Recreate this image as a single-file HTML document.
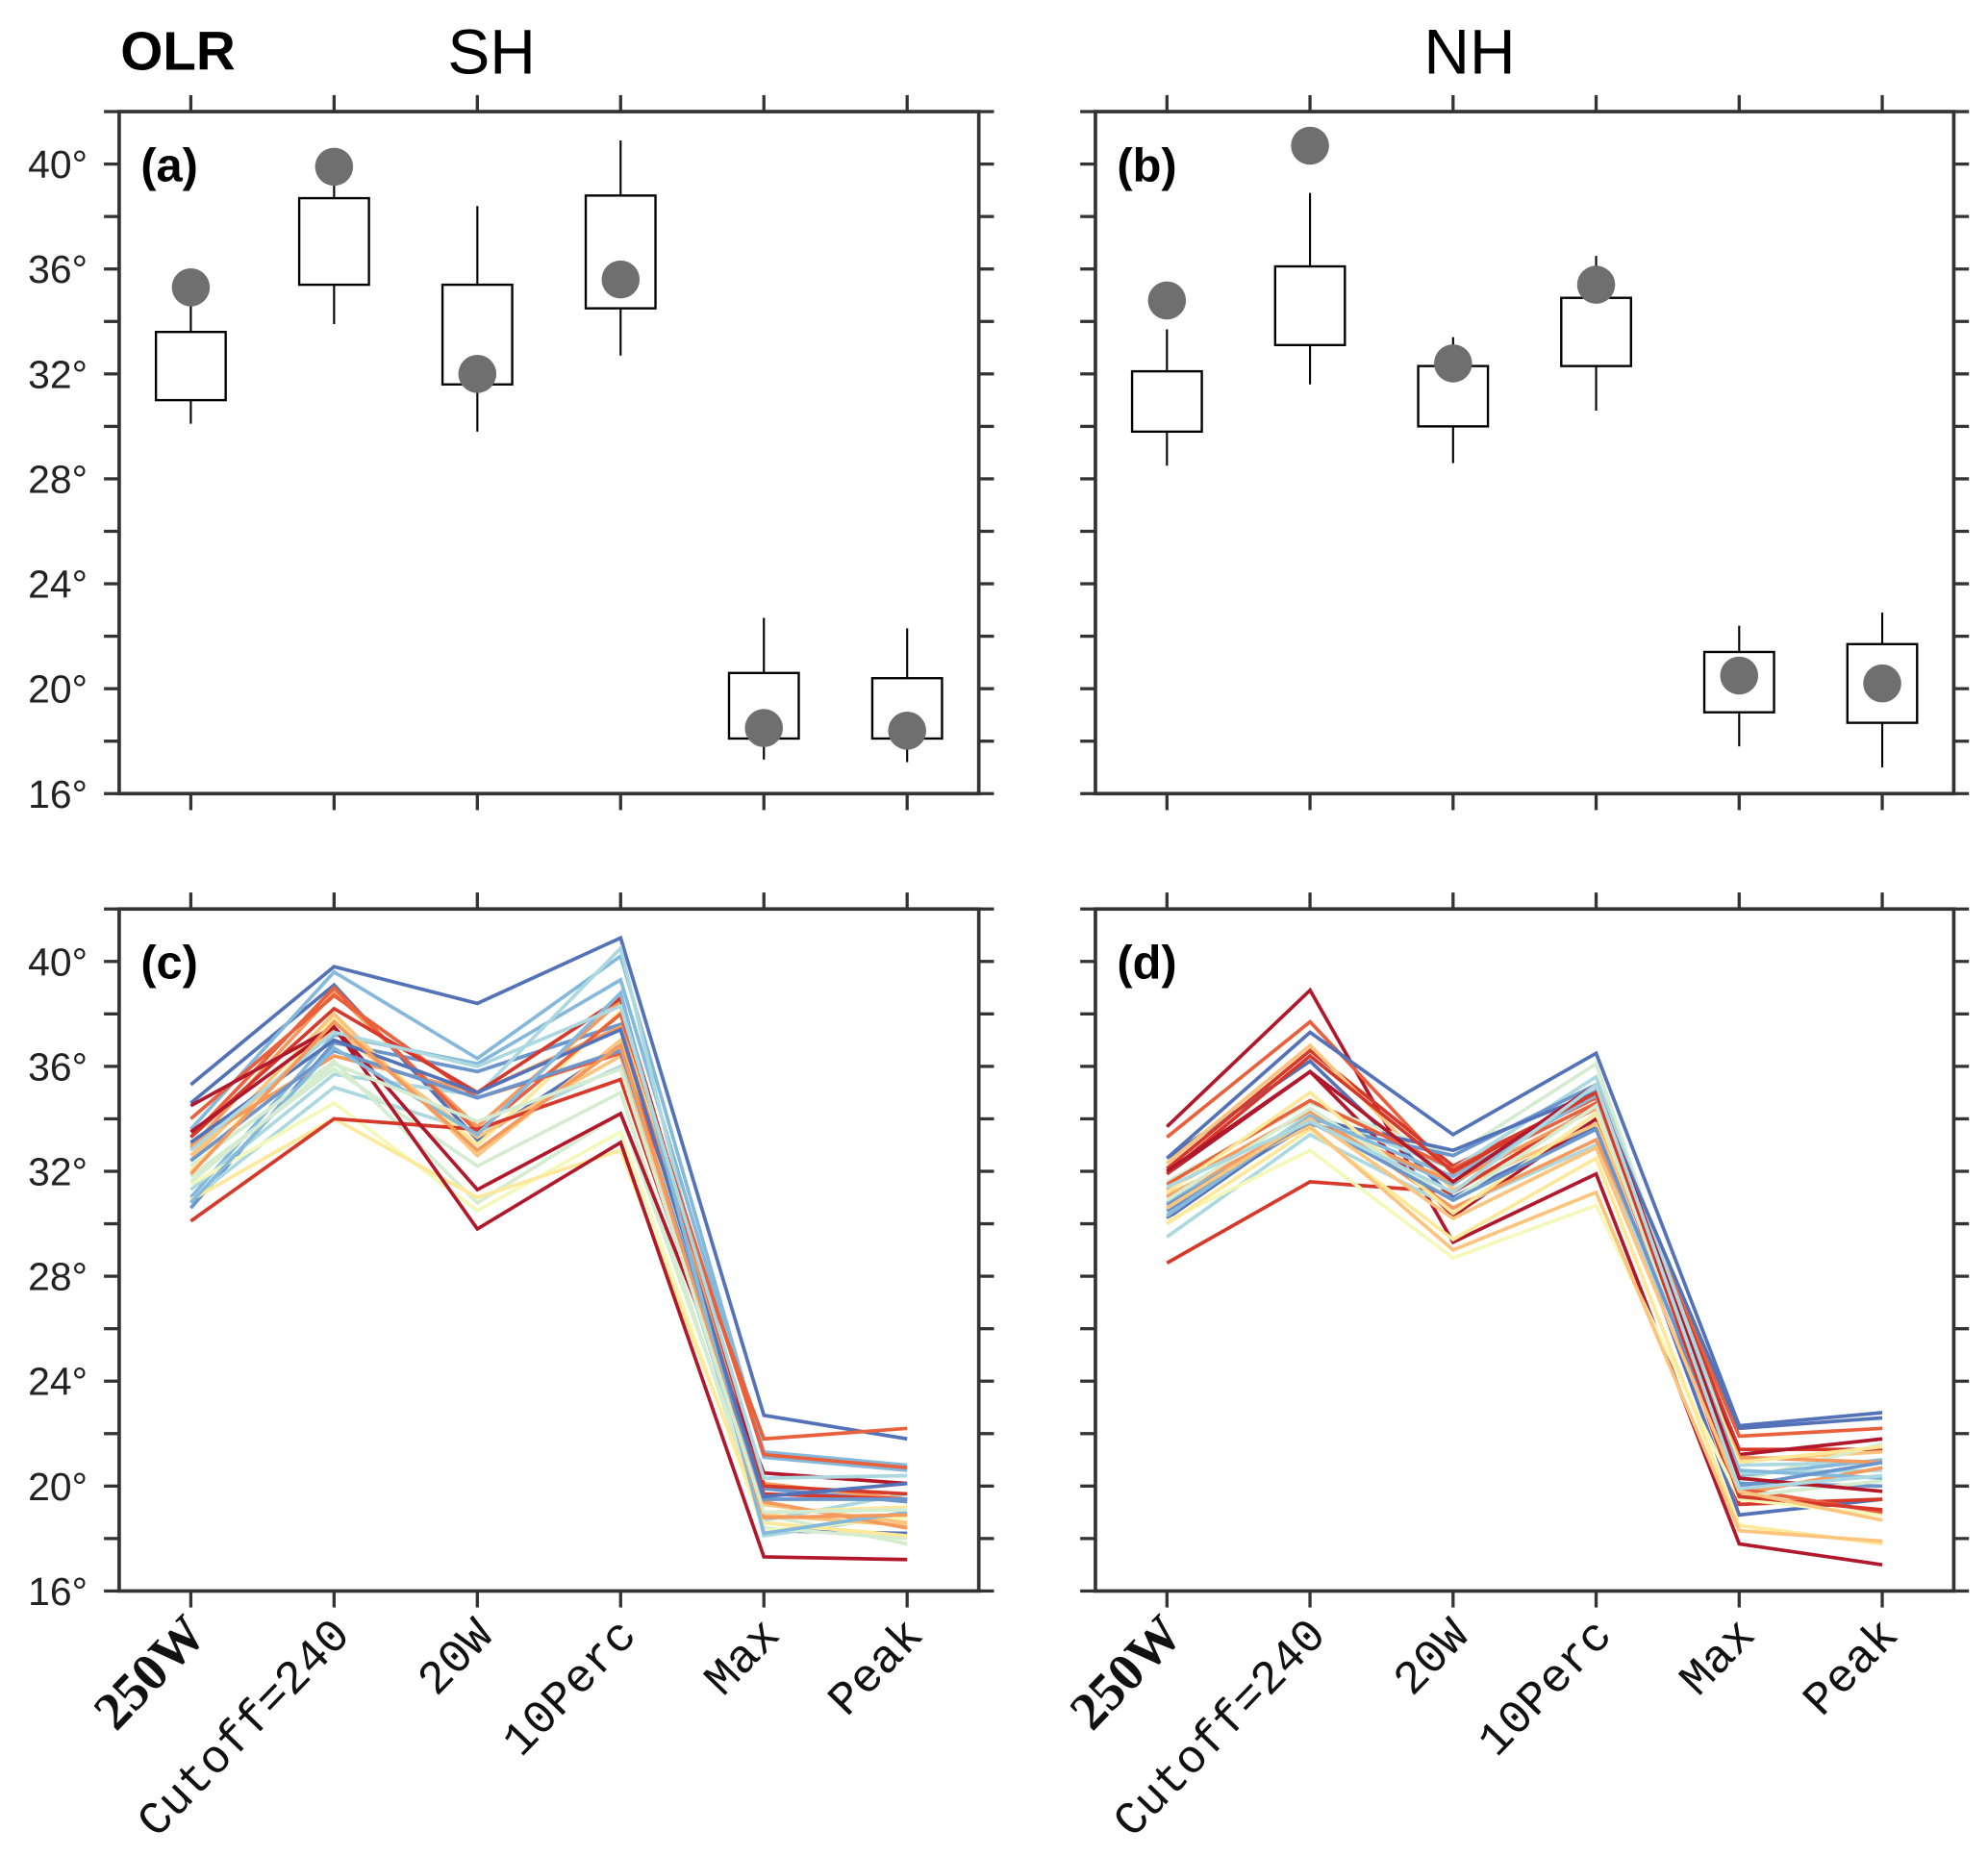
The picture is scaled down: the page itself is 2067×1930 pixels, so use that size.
<!DOCTYPE html>
<html><head><meta charset="utf-8"><style>
html,body{margin:0;padding:0;background:#fff;}
svg{display:block;}
</style></head><body>
<svg id="fig" width="2067" height="1930" viewBox="0 0 1568 1464" xmlns="http://www.w3.org/2000/svg" font-family="Liberation Sans, sans-serif">
<text x="95" y="55" font-size="43" font-weight="bold">OLR</text>
<text x="353" y="58" font-size="50">SH</text>
<text x="1123" y="58" font-size="50">NH</text>
</svg>
<script>
const categories = ["250W","Cutoff=240","20W","10Perc","Max","Peak"];
const yTicks = [16,20,24,28,32,36,40];
// box stats: [whiskerLow, q1, q3, whiskerHigh]
const shBoxLow = [30.1,33.9,29.8,32.7,17.3,17.2];
const shBoxQ1  = [31.0,35.4,31.6,34.5,18.1,18.1];
const shBoxQ3  = [33.6,38.7,35.4,38.8,20.6,20.4];
const shBoxHigh= [35.3,39.9,38.4,40.9,22.7,22.3];
const shDots   = [35.3,39.9,32.0,35.6,18.5,18.4];
const nhBoxLow = [28.5,31.6,28.6,30.6,17.8,17.0];
const nhBoxQ1  = [29.8,33.1,30.0,32.3,19.1,18.7];
const nhBoxQ3  = [32.1,36.1,32.3,34.9,21.4,21.7];
const nhBoxHigh= [33.7,38.9,33.4,36.5,22.4,22.9];
const nhDots   = [34.8,40.7,32.4,35.4,20.5,20.2];
const shSeries = [
[35.3,39.8,38.4,40.9,22.7,21.8],[34.6,39.1,33.2,36.8,18.3,18.2],[30.6,36.9,35.8,37.6,19.9,19.4],
[33.6,39.6,36.3,40.2,21.3,20.8],[31.0,37.2,36.1,39.3,21.1,20.6],[31.3,35.7,34.9,40.5,18.1,18.9],
[30.9,35.2,33.5,36.0,18.7,19.7],[31.8,35.9,32.2,35.0,18.4,18.0],[32.2,36.2,30.8,34.2,18.9,17.8],
[31.5,34.6,30.5,33.5,18.3,18.8],[30.9,34.0,31.0,32.8,18.6,18.1],[32.0,37.8,33.0,38.1,19.0,19.2],
[32.4,38.0,32.6,37.0,18.9,18.5],[32.6,37.4,33.3,36.4,19.3,18.6],[32.9,38.8,33.7,38.5,19.4,18.4],
[33.0,36.4,35.0,37.5,20.1,19.5],[34.0,38.7,34.8,36.5,21.8,22.2],[33.3,39.0,33.5,38.0,21.2,20.7],
[33.3,38.2,35.0,38.6,20.0,19.7],[30.1,34.0,33.6,35.5,19.7,19.5],[34.5,37.5,31.3,34.2,20.5,20.1],
[33.5,37.5,29.8,33.1,17.3,17.2],[32.4,36.6,34.8,36.6,19.5,19.5],[33.1,37.0,35.0,37.4,19.6,20.1],
[30.8,36.7,33.4,38.8,18.2,19.0],[32.8,37.3,36.0,38.3,20.3,20.4],[31.9,37.7,32.8,36.8,18.8,18.9],
[31.6,36.1,33.9,35.9,19.0,19.1]];
const shColors = ["#5472b8","#5472b8","#6b96cd","#85b9dc","#85b9dc","#acd8df","#acd8df","#d5ecd0","#d5ecd0","#f4f8b9","#fee99a","#fee99a","#fdc47d","#fdc47d","#f59a5c","#f59a5c","#e8603c","#e8603c","#d6382a","#d6382a","#b2182b","#b2182b","#6b96cd","#5472b8","#85b9dc","#acd8df","#f59a5c","#d5ecd0"];
const nhSeries = [
[33.7,38.9,29.3,31.9,17.8,17.0],[33.3,37.7,31.9,34.6,21.9,22.2],[32.5,37.3,33.4,36.5,22.3,22.8],
[32.5,36.2,31.0,33.7,18.9,19.5],[32.1,36.6,32.2,34.9,21.4,21.4],[31.9,35.8,30.3,34.0,21.2,21.8],
[32.3,36.8,31.3,33.8,21.0,21.3],[28.5,31.6,31.2,34.5,19.3,19.5],[31.6,34.6,32.6,36.1,20.2,21.6],
[30.4,34.2,32.1,35.6,20.8,20.9],[30.8,33.9,31.5,35.1,20.4,21.0],[30.5,33.8,32.6,35.3,20.1,20.0],
[30.2,34.0,32.8,35.0,22.2,22.6],[29.5,33.4,30.6,33.0,20.5,20.6],[30.1,32.8,28.7,30.7,19.5,18.9],
[30.0,33.6,29.4,32.5,18.5,17.8],[31.1,33.7,29.0,31.2,18.3,17.9],[31.0,33.9,31.6,34.4,19.7,20.7],
[31.3,34.3,30.6,33.2,21.1,20.9],[31.5,34.7,32.1,34.8,19.9,19.0],[31.2,35.0,30.4,34.2,20.9,21.5],
[30.9,34.4,30.9,34.5,19.6,20.2],[30.3,34.1,31.8,34.9,20.6,20.3],[30.7,33.9,30.9,33.6,20.0,20.9],
[31.9,36.4,32.0,35.0,19.6,19.1],[32.0,35.8,31.6,35.3,20.3,19.8],[30.6,34.0,30.2,32.9,19.8,18.7],
[31.4,33.9,31.2,35.3,19.9,20.4]];
const nhColors = ["#b2182b","#e8603c","#5472b8","#5472b8","#d6382a","#b2182b","#fdc47d","#d6382a","#d5ecd0","#acd8df","#85b9dc","#6b96cd","#5472b8","#acd8df","#f4f8b9","#fee99a","#fdc47d","#f59a5c","#f59a5c","#e8603c","#fee99a","#d5ecd0","#85b9dc","#6b96cd","#d6382a","#b2182b","#fdc47d","#acd8df"];

const NS="http://www.w3.org/2000/svg";
const svg=document.getElementById('fig');
function mk(tag,attrs,parent){const e=document.createElementNS(NS,tag);for(const k in attrs)e.setAttribute(k,attrs[k]);(parent||svg).appendChild(e);return e;}
const yMin=16,yMax=42;
function makePanel(x0,x1,y0,y1){
  return {x0,x1,y0,y1,
    sx:i=>x0+(i+0.5)*(x1-x0)/6,
    sy:v=>y1-(v-yMin)/(yMax-yMin)*(y1-y0)};
}
function axes(p,name,label,showY,showX){
  const g=mk('g',{});
  
  
  for(let v=16;v<=42;v+=2){
    const y=p.sy(v);
    mk('line',{x1:p.x0-12,x2:p.x0,y1:y,y2:y,stroke:'#333','stroke-width':2.5},g);
    mk('line',{x1:p.x1,x2:p.x1+12,y1:y,y2:y,stroke:'#333','stroke-width':2.5},g);
  }
  categories.forEach((c,i)=>{
    const x=p.sx(i);
    mk('line',{x1:x,x2:x,y1:p.y0-13,y2:p.y0,stroke:'#333','stroke-width':2.5},g);
    mk('line',{x1:x,x2:x,y1:p.y1,y2:p.y1+13,stroke:'#333','stroke-width':2.5},g);
  });
  mk('rect',{x:p.x0,y:p.y0,width:p.x1-p.x0,height:p.y1-p.y0,fill:'none',stroke:'#333','stroke-width':2.8},g);
  if(showY){
    yTicks.forEach(v=>{
      const t=mk('text',{x:p.x0-25,y:p.sy(v)+11,'text-anchor':'end','font-size':31,fill:'#222'},g);
      
      
      t.textContent=v+'°';
    });
  }
  if(showX){
    categories.forEach((c,i)=>{
      const x=p.sx(i)+14, y=p.y1+36;
      const bold=i===0;
      const t=mk('text',{x:x,y:y,'text-anchor':'end','font-size':bold?42:37,'font-weight':bold?'bold':'normal','font-family':bold?'Liberation Serif, serif':'Liberation Mono, monospace',transform:`rotate(-46 ${x} ${y})`,fill:'#111'},g);
      
      
      t.textContent=c;
    });
  }
  const pl=mk('text',{x:p.x0+17,y:p.y0+55,'font-size':37,'font-weight':'bold'},g);
  
  
  pl.textContent=label;
}
function boxes(p,name,lo,q1,q3,hi,dots){
  categories.forEach((c,i)=>{
    const x=p.sx(i),hw=27.5;
    const g=mk('g',{});
    
    
    mk('line',{x1:x,x2:x,y1:p.sy(hi[i]),y2:p.sy(q3[i]),stroke:'#000','stroke-width':1.6},g);
    mk('line',{x1:x,x2:x,y1:p.sy(q1[i]),y2:p.sy(lo[i]),stroke:'#000','stroke-width':1.6},g);
    mk('rect',{x:x-hw,y:p.sy(q3[i]),width:2*hw,height:p.sy(q1[i])-p.sy(q3[i]),fill:'#fff',stroke:'#000','stroke-width':1.8},g);
    const d=mk('ellipse',{cx:x,cy:p.sy(dots[i]),rx:15,ry:15,fill:'#6f6f6f'},g);
    
    
  });
}
function lines(p,name,series,colors){
  series.forEach((s,k)=>{
    const pts=s.map((v,i)=>p.sx(i).toFixed(1)+','+p.sy(v).toFixed(1)).join(' ');
    const l=mk('polyline',{points:pts,fill:'none',stroke:colors[k%colors.length],'stroke-width':2.8,'stroke-linejoin':'miter'});
    
    
  });
}
const pa=makePanel(94,772,88,626), pb=makePanel(864,1541,88,626);
const pc=makePanel(94,772,717,1255), pd=makePanel(864,1541,717,1255);
boxes(pa,'sh',shBoxLow,shBoxQ1,shBoxQ3,shBoxHigh,shDots);
boxes(pb,'nh',nhBoxLow,nhBoxQ1,nhBoxQ3,nhBoxHigh,nhDots);
lines(pc,'sh',shSeries,shColors);
lines(pd,'nh',nhSeries,nhColors);
axes(pa,'panel-a','(a)',true,false);
axes(pb,'panel-b','(b)',false,false);
axes(pc,'panel-c','(c)',true,true);
axes(pd,'panel-d','(d)',false,true);
</script>
</body></html>
